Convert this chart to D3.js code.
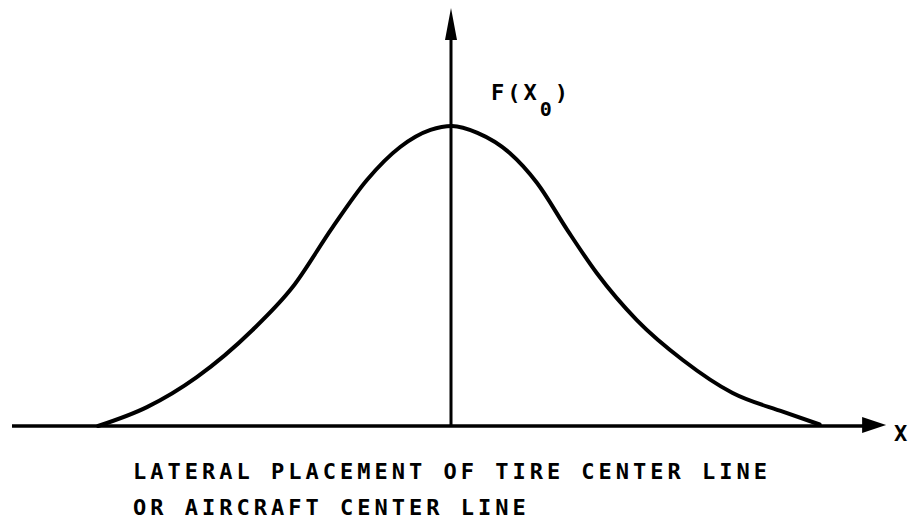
<!DOCTYPE html>
<html lang="en">
<head>
    <meta charset="UTF-8">
    <title>Lateral Placement Distribution</title>
    <script src="https://d3js.org/d3.v7.min.js"></script>
    <style>
        body { margin: 0; padding: 0; background: #fff; }
        svg { display: block; }
        .lbl { font-family: "DejaVu Sans Mono", monospace; font-size: 22px; font-weight: bold; fill: #000; }
    </style>
</head>
<body>
<script>
    // curve (lateral offset, relative frequency)
    const offsets = [-3.62, -3.12, -2.61, -2.04, -1.63, -1.22, -0.87, -0.53, -0.22, 0,
                     0.26, 0.59, 0.87, 1.18, 1.48, 1.89, 2.36, 2.87, 3.39, 3.76];
    const freq = [0.0, 0.063, 0.163, 0.32, 0.463, 0.663, 0.82, 0.93, 0.987, 1.0,
                  0.977, 0.91, 0.81, 0.653, 0.51, 0.353, 0.22, 0.11, 0.047, 0.005];
    const xLabel = "X";
    const yLabel = ["F(X", "0", ")"];
    const caption = ["LATERAL PLACEMENT OF TIRE CENTER LINE", "OR AIRCRAFT CENTER LINE"];

    const W = 909, H = 528;
    const svg = d3.select("body").append("svg").attr("width", W).attr("height", H);

    const x = d3.scaleLinear().domain([-4.5, 4.5]).range([12, 892]);
    const y = d3.scaleLinear().domain([0, 1]).range([426, 126]);

    // horizontal axis with arrow
    const xEnd = 4.44;
    svg.append("line")
        .attr("x1", x(-4.5)).attr("x2", x(xEnd) - 10)
        .attr("y1", y(0)).attr("y2", y(0))
        .attr("stroke", "#000").attr("stroke-width", 3.5);
    svg.append("path")
        .attr("d", `M${x(xEnd)},${y(0) - 1} L${x(xEnd) - 24},${y(0) - 9} L${x(xEnd) - 24},${y(0) + 7} Z`)
        .attr("fill", "#000");

    // vertical axis with arrow
    const yTop = 1.393;
    svg.append("line")
        .attr("x1", x(0) - 1).attr("x2", x(0) - 1)
        .attr("y1", y(0)).attr("y2", y(yTop) + 20)
        .attr("stroke", "#000").attr("stroke-width", 3);
    svg.append("path")
        .attr("d", `M${x(0) - 1},${y(yTop)} L${x(0) - 7},${y(yTop) + 32} L${x(0) + 5},${y(yTop) + 32} Z`)
        .attr("fill", "#000");

    // distribution curve
    const line = d3.line()
        .x((d, i) => x(offsets[i]))
        .y(d => y(d))
        .curve(d3.curveMonotoneX);
    svg.append("path")
        .datum(freq)
        .attr("d", line)
        .attr("fill", "none")
        .attr("stroke", "#000")
        .attr("stroke-width", 4)
        .attr("stroke-linecap", "round");

    // axis labels
    const fl = svg.append("text").attr("class", "lbl")
        .attr("x", 491).attr("y", 100)
        .attr("letter-spacing", 3);
    fl.append("tspan").text(yLabel[0]);
    fl.append("tspan").attr("dy", 16).attr("font-size", 20).text(yLabel[1]);
    fl.append("tspan").attr("dy", -16).text(yLabel[2]);

    svg.append("text").attr("class", "lbl")
        .attr("x", 894).attr("y", 441)
        .attr("font-size", 20)
        .text(xLabel);

    svg.selectAll(".cap")
        .data(caption)
        .enter().append("text")
        .attr("class", "lbl cap")
        .attr("x", 133)
        .attr("y", (d, i) => 479 + i * 36)
        .attr("letter-spacing", 4)
        .text(d => d);
</script>
</body>
</html>
